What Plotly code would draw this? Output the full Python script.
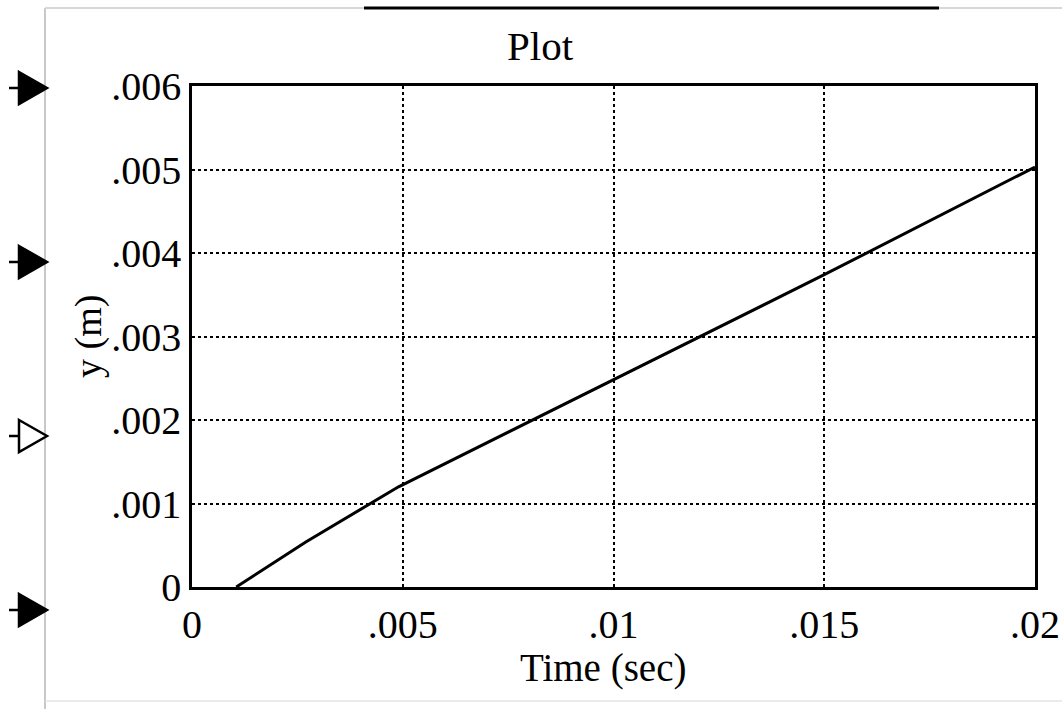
import plotly.graph_objects as go

# Data
time_s = [0.00105, 0.0027, 0.0049, 0.01, 0.015, 0.02]
y_m = [0.0, 0.00054, 0.0012, 0.00248, 0.00374, 0.00503]

x_tickvals = [0, 0.005, 0.01, 0.015, 0.02]
x_ticktext = ["0", ".005", ".01", ".015", ".02"]
y_tickvals = [0, 0.001, 0.002, 0.003, 0.004, 0.005, 0.006]
y_ticktext = ["0", ".001", ".002", ".003", ".004", ".005", ".006"]

W, H = 1062, 709
L, R, T, B = 192, 27, 86, 122
PW, PH = W - L - R, H - T - B


def px(x):
    return (x - L) / PW


def py(y):
    return (H - B - y) / PH


FONT = "Liberation Serif"

fig = go.Figure()
fig.add_trace(go.Scatter(x=time_s, y=y_m, mode="lines",
                         line=dict(color="black", width=3), showlegend=False))

axis_common = dict(showline=True, mirror=True, linecolor="black", linewidth=2.5,
                   showgrid=True, gridcolor="black", griddash="dot", gridwidth=1.5,
                   zeroline=False, ticks="",
                   tickfont=dict(family=FONT, size=40, color="black"))

fig.update_xaxes(range=[0, 0.02], tickvals=x_tickvals, ticktext=x_ticktext, **axis_common)
fig.update_yaxes(range=[0, 0.006], tickvals=y_tickvals, ticktext=y_ticktext, **axis_common)

shapes = []
# outer frame lines
shapes.append(dict(type="line", xref="paper", yref="paper", x0=px(45), x1=px(45), y0=py(8), y1=py(709),
                   line=dict(color="#c8c8c8", width=2)))
shapes.append(dict(type="line", xref="paper", yref="paper", x0=px(45), x1=px(1062), y0=py(8), y1=py(8),
                   line=dict(color="#d8d8d8", width=2)))
shapes.append(dict(type="line", xref="paper", yref="paper", x0=px(364), x1=px(939), y0=py(8), y1=py(8),
                   line=dict(color="black", width=3)))
shapes.append(dict(type="line", xref="paper", yref="paper", x0=px(45), x1=px(1062), y0=py(701), y1=py(701),
                   line=dict(color="#e4e4e4", width=1.5)))

# port arrows on the left
for cy, filled in [(88, True), (262, True), (436, False), (610, True)]:
    shapes.append(dict(type="line", xref="paper", yref="paper", x0=px(9), x1=px(19), y0=py(cy), y1=py(cy),
                       line=dict(color="black", width=2.5)))
    path = "M {},{} L {},{} L {},{} Z".format(px(19), py(cy - 16), px(47), py(cy), px(19), py(cy + 16))
    shapes.append(dict(type="path", xref="paper", yref="paper", path=path,
                       fillcolor="black" if filled else "white",
                       line=dict(color="black", width=2.5)))

annotations = [
    dict(text="Plot", x=px(540), y=py(46), xref="paper", yref="paper", showarrow=False,
         font=dict(family=FONT, size=41, color="black"), xanchor="center", yanchor="middle"),
    dict(text="Time (sec)", x=px(603), y=py(668), xref="paper", yref="paper", showarrow=False,
         font=dict(family=FONT, size=39, color="black"), xanchor="center", yanchor="middle"),
    dict(text="y (m)", x=px(88), y=py(337), xref="paper", yref="paper", showarrow=False, textangle=-90,
         font=dict(family=FONT, size=38, color="black"), xanchor="center", yanchor="middle"),
]

fig.update_layout(width=W, height=H, autosize=False, margin=dict(l=L, r=R, t=T, b=B, autoexpand=False),
                  paper_bgcolor="white", plot_bgcolor="white",
                  shapes=shapes, annotations=annotations, showlegend=False)

fig.write_html("out.html",
               config={"displayModeBar": False, "responsive": False},
               default_width="1062px", default_height="709px",
               post_script="document.body.style.margin='0';document.body.style.overflow='hidden';")
